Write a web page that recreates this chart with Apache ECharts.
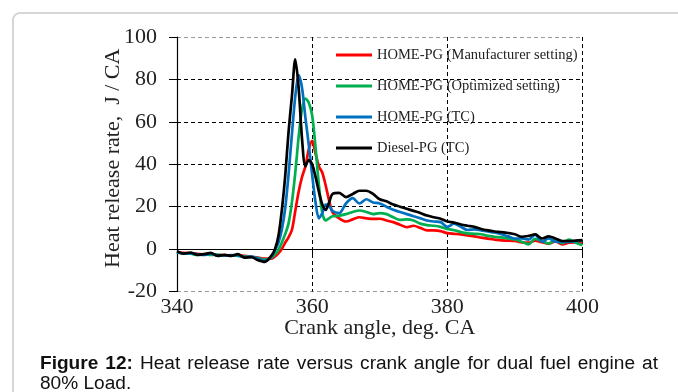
<!DOCTYPE html>
<html>
<head>
<meta charset="utf-8">
<script src="https://cdn.jsdelivr.net/npm/echarts@6/dist/echarts.min.js"></script>
<style>
  html, body { margin: 0; padding: 0; background: #fff; }
  #wrap { position: relative; width: 678px; height: 392px; overflow: hidden; }
  #card {
    position: absolute; left: 12px; top: 12px; width: 720px; height: 420px;
    border: 2px solid #d6d6d6; border-radius: 8px; box-sizing: border-box;
  }
  #chart { position: absolute; left: 0; top: 0; width: 678px; height: 392px; }
  #caption {
    position: absolute; left: 40px; top: 353px; width: 583px;
    font-family: "Liberation Sans", Arial, sans-serif; font-size: 18px;
    line-height: 20px; color: #111; text-align: justify;
    transform: scaleX(1.06); transform-origin: 0 0;
  }
</style>
</head>
<body>
<div id="wrap">
  <div id="card"></div>
  <div id="chart"></div>
  <div id="caption"><b>Figure 12:</b> Heat release rate versus crank angle for dual fuel engine at 80% Load.</div>
</div>
<script>
// crank angle, deg. CA
const angles = [
  340, 341, 342, 343, 344, 345, 346, 347, 348, 349, 350, 351, 352, 353, 354,
  354.5, 355, 355.5, 356, 356.5, 357, 357.5, 358, 358.5, 359, 359.5, 360, 360.5, 361, 361.5, 362, 362.5, 363,
  364, 365, 366, 367, 368, 369, 370, 371, 372, 373, 374, 375, 376, 377, 378, 379, 380, 381, 382, 383,
  384, 385, 386, 387, 388, 389, 390, 391, 392, 393, 394, 395, 396, 397, 398, 399, 400
];

// heat release rate, J / CA
const manufacturer = [
  -1.5, -1.8, -2, -2.2, -2.5, -2.5, -2.8, -2.8, -3, -3, -3.2, -3.6, -4, -4.5, -4.5,
  -3.5, -2, 0, 3, 5.5, 9, 18, 27, 34, 39, 47, 51, 45, 39, 36, 30, 23, 17.5,
  14.5, 13, 14, 15, 14.5, 14.2, 14.3, 13.5, 12.7, 11.5, 10.3, 11, 10, 8.8, 8.8, 8.5, 7.5, 7.2, 6.9, 6.5,
  6, 5.4, 4.9, 4.5, 4.1, 4, 3.8, 3.2, 3, 4, 3.2, 2.5, 3.6, 2.2, 3, 3.2, 2.5
];
const optimized = [
  -1.5, -2.2, -2.2, -2.8, -2.5, -2.8, -2.6, -3, -3, -3.2, -3.5, -3.8, -4.2, -5, -4,
  -2.5, -0.5, 3, 7, 12, 22, 36, 53, 66, 71, 69, 63, 48, 30, 17, 13.5, 14.5, 15.5,
  15.8, 16.5, 17.5, 18.2, 17.5, 16.5, 17, 16.5, 15, 13.8, 14, 13.5, 12, 11.3, 11, 10.5, 9.5, 8.9, 8, 7.4,
  7.2, 7, 6.2, 5.8, 5.5, 5, 4.5, 3.5, 2.2, 4.8, 3.8, 2.6, 4.4, 2.8, 4.5, 3, 1.8
];
const homeTC = [
  -1.5, -2, -2, -2.5, -2.8, -2.2, -3, -3, -2.8, -3, -3.8, -3.5, -4.5, -5.5, -3.5,
  -0.5, 3, 9, 19, 35, 54, 72, 82, 76, 62, 49, 35, 22, 14.5, 17, 21, 20.5, 18,
  17, 21.5, 24, 21.5, 23.5, 22, 21.5, 20, 18.5, 17.5, 16.5, 15.5, 14.5, 13.5, 13, 12.7, 10.5, 12, 10.5, 9,
  9.3, 8.8, 8.3, 7.8, 7, 6, 5, 5, 4.5, 6.8, 3.5, 5, 3.5, 3.4, 3.4, 3.8, 4
];
const dieselTC = [
  -1, -2.1, -1.6, -2.7, -2.4, -1.8, -3.2, -2.7, -3.2, -2.4, -4, -3.8, -5.2, -6, -3,
  0, 6, 18, 34, 55, 72, 89.5, 76, 52, 39, 42, 40, 34, 27, 21, 18.5, 22, 26,
  26.5, 24.5, 26, 27.5, 27.5, 26, 23.5, 22.5, 21, 20, 19, 18, 17, 15.8, 15, 14.3, 13, 12.5, 11.6, 11,
  10.5, 9.5, 8.8, 8.3, 8, 7.6, 7, 5.8, 6.2, 6.9, 5, 6, 5, 3.8, 3.8, 4, 4.2
];

const seriesNames = [
  'HOME-PG (Manufacturer setting)',
  'HOME-PG (Optimized setting)',
  'HOME-PG (TC)',
  'Diesel-PG (TC)'
];
const seriesValues = [manufacturer, optimized, homeTC, dieselTC];
const seriesColors = ['#ff0000', '#00b050', '#0070c0', '#000000'];

const serif = '"Liberation Serif", "Times New Roman", serif';

const chart = echarts.init(document.getElementById('chart'), null, { renderer: 'canvas' });

chart.setOption({
  animation: false,
  backgroundColor: 'transparent',
  grid: { left: 177, top: 37, right: 95.5, bottom: 100.5, containLabel: false },
  legend: {
    orient: 'vertical',
    left: 336,
    top: 47,
    padding: 0,
    icon: 'rect',
    itemWidth: 36,
    itemHeight: 3,
    itemGap: 15,
    itemTextGap: 1,
    textStyle: { fontFamily: serif, fontSize: 14.5, color: '#222', lineHeight: 16 },
    data: seriesNames
  },
  xAxis: [
    {
      // line on zero with the ticks
      type: 'value', min: 340, max: 400, interval: 20,
      axisLine: { onZero: true, lineStyle: { color: '#000', width: 1.2 } },
      axisTick: { show: true, inside: false, length: 8, lineStyle: { color: '#000' } },
      axisLabel: { show: false },
      splitLine: {
        show: true, showMinLine: false,
        lineStyle: { color: ['#000', '#000', '#000', '#9a9a9a'], type: [4, 3], width: 1 }
      }
    },
    {
      // bottom labels
      type: 'value', min: 340, max: 400, interval: 20, position: 'bottom',
      axisLine: { show: false, onZero: false },
      axisTick: { show: false },
      axisLabel: { fontFamily: serif, fontSize: 22, color: '#222', margin: 5 },
      splitLine: { show: false },
      name: 'Crank angle, deg. CA',
      nameLocation: 'middle',
      nameGap: 26,
      nameMoveOverlap: false,
      nameTextStyle: { fontFamily: serif, fontSize: 22, color: '#222' }
    }
  ],
  yAxis: {
    type: 'value', min: -20, max: 100, interval: 20,
    axisLine: { show: true, onZero: false, lineStyle: { color: '#000', width: 1.2 } },
    axisTick: { show: true, inside: false, length: 8, lineStyle: { color: '#000' } },
    axisLabel: { fontFamily: serif, fontSize: 22, color: '#222', margin: 20 },
    splitLine: {
      show: true,
      lineStyle: {
        color: ['#9a9a9a', '#000', '#000', '#000', '#000', '#000', '#9a9a9a'],
        type: [4, 3], width: 1
      }
    },
    name: 'Heat release rate,  J / CA',
    nameLocation: 'middle',
    nameGap: 53,
    nameMoveOverlap: false,
    nameTextStyle: { fontFamily: serif, fontSize: 22, color: '#222', padding: [0, 0, 0, 12] }
  },
  series: seriesNames.map((name, i) => ({
    name,
    type: 'line',
    xAxisIndex: 0,
    data: angles.map((a, k) => [a, seriesValues[i][k]]),
    showSymbol: false,
    symbol: 'none',
    smooth: 0.3,
    lineStyle: { color: seriesColors[i], width: 2.7 },
    itemStyle: { color: seriesColors[i] }
  }))
});
</script>
</body>
</html>
